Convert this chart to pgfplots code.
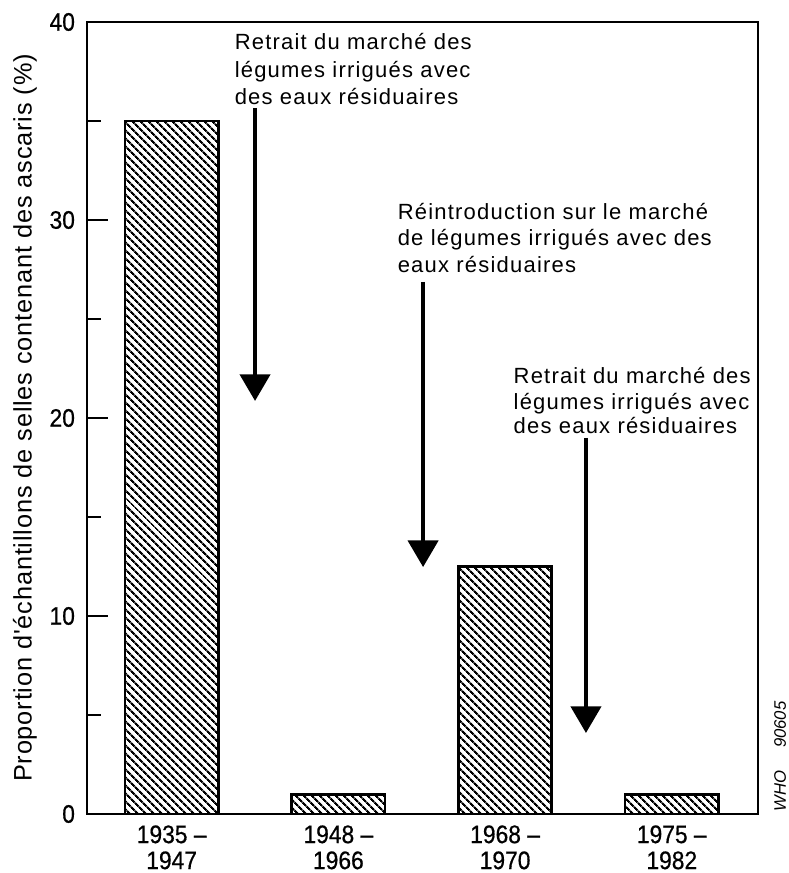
\documentclass[border=0pt]{standalone}
\usepackage{pgfplots}
\pgfplotsset{compat=1.18}
\usepackage{fontspec}
\setmainfont{Liberation Sans}
\newfontfamily\annfont[LetterSpace=5.5]{Liberation Sans}
\newfontfamily\ylabfont[LetterSpace=3.3]{Liberation Sans}
\newfontfamily\tickfont[FakeStretch=0.9,FakeBold=0.6]{Liberation Sans}
\usetikzlibrary{patterns.meta,arrows.meta}

\begin{document}
\begin{tikzpicture}
\begin{axis}[
  at={(0,0)}, anchor=south west,
  scale only axis, width=503.25pt, height=594pt,
  xmin=-0.508, xmax=3.517, ymin=0, ymax=40,
  clip=false,
  line width=1.1pt,
  xtick={0,1,2,3},
  xticklabels={{1935 –\\1947},{1948 –\\1966},{1968 –\\1970},{1975 –\\1982}},
  major x tick style={draw=none},
  xticklabel style={align=center, anchor=north, inner sep=0pt, yshift=-8pt, font=\tickfont\fontsize{19}{19.5}\selectfont},
  ytick={0,10,20,30,40},
  minor ytick={5,15,25,35},
  ytick pos=left,
  tick align=inside,
  major tick length=15.75pt,
  minor tick length=10.5pt,
  every tick/.style={line width=1pt, black},
  yticklabel style={font=\tickfont\fontsize{19}{20}\selectfont, inner sep=0pt, anchor=east, xshift=-8.5pt},
  /pgf/number format/assume math mode=true,
  ylabel={Proportion d'échantillons de selles contenant des ascaris (\%)},
  ylabel style={at={(axis description cs:-0.0826,0.5)}, anchor=base, font=\ylabfont\fontsize{19}{22}\selectfont},
]
\addplot[ybar, bar width=0.56, draw=black, line width=2pt,
  pattern={Lines[angle=-45,distance=4pt,line width=1.7pt]}, pattern color=black]
  coordinates {(0,35) (1,1) (2,12.5) (3,1)};

\draw[line width=3.2pt, -{Triangle[width=22.5pt,length=20pt]}] (axis cs:0.5,35.66) -- (axis cs:0.5,20.86);
\draw[line width=3.2pt, -{Triangle[width=22.5pt,length=20pt]}] (axis cs:1.508,26.87) -- (axis cs:1.508,12.47);
\draw[line width=3.2pt, -{Triangle[width=22.5pt,length=20pt]}] (axis cs:2.485,18.99) -- (axis cs:2.485,4.09);

\tikzset{ann/.style={anchor=base west, inner sep=0pt, font=\annfont\fontsize{16.5}{20}\selectfont}}
\node[ann] at (axis cs:0.374,38.59) {Retrait du marché des};
\node[ann] at (axis cs:0.374,37.20) {légumes irrigués avec};
\node[ann] at (axis cs:0.374,35.81) {des eaux résiduaires};

\node[ann] at (axis cs:1.352,30.00) {Réintroduction sur le marché};
\node[ann] at (axis cs:1.352,28.69) {de légumes irrigués avec des};
\node[ann] at (axis cs:1.352,27.37) {eaux résiduaires};

\node[ann] at (axis cs:2.047,21.72) {Retrait du marché des};
\node[ann] at (axis cs:2.047,20.45) {légumes irrigués avec};
\node[ann] at (axis cs:2.047,19.24) {des eaux résiduaires};

\node[anchor=base west, rotate=90, inner sep=0pt, font=\itshape\fontsize{12.5}{14}\selectfont]
  at (rel axis cs:1.0417,0.0025) {WHO\hspace{17pt}90605};
\end{axis}
\pgfresetboundingbox
\useasboundingbox (-65.25pt,-44.25pt) rectangle (525.75pt,610.5pt);
\end{tikzpicture}
\end{document}
